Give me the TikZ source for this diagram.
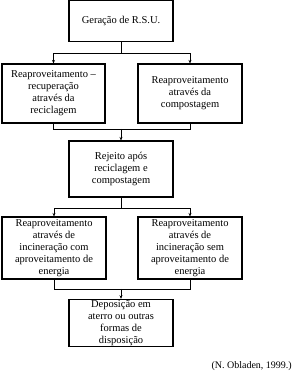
\documentclass[tikz,border=0pt]{standalone}
\usepackage{fontspec}
\setmainfont{Liberation Serif}
\usetikzlibrary{arrows.meta}
\begin{document}
\begin{tikzpicture}[x=1pt,y=1pt,
  box/.style={draw,line width=1.1pt,align=center,inner sep=1pt,
    font=\fontsize{10.5}{12}\selectfont,minimum width=104pt},
  conn/.style={line width=0.8pt},
  arr/.style={conn,-{Stealth[length=3.5pt,width=3pt]}}]
\useasboundingbox (0,0) rectangle (293,380);
\node[box,minimum height=41pt] (b1) at (121,359) {Geração de R.S.U.};
\node[box,minimum height=59pt,minimum width=103pt] (b2) at (53.5,286.5) {Reaproveitamento –\\recuperação\\através da\\reciclagem};
\node[box,minimum height=59pt] (b3) at (190,286.5) {Reaproveitamento\\através da\\compostagem};
\node[box,minimum height=56pt] (b4) at (121,211) {Rejeito após\\reciclagem e\\compostagem};
\node[box,minimum height=62pt] (b5) at (54,132) {Reaproveitamento\\através de\\incineração com\\aproveitamento de\\energia};
\node[box,minimum height=62pt] (b6) at (190,132) {Reaproveitamento\\através de\\incineração sem\\aproveitamento de\\energia};
\node[box,minimum height=46pt] (b7) at (121,57) {Deposição em\\aterro ou outras\\formas de\\disposição};
\node[anchor=base east,font=\fontsize{10}{12}\selectfont,inner sep=0pt] (src) at (292,12) {(N. Obladen, 1999.)};
\coordinate (j1) at (121,327);
\coordinate (j2) at (121,251);
\coordinate (j3) at (121,172);
\coordinate (j4) at (121,91);
\draw[conn] (b1.south) -- (j1);
\draw[arr] (j1) -| (b2.north);
\draw[arr] (j1) -| (b3.north);
\draw[conn] (b2.south) |- (j2);
\draw[conn] (b3.south) |- (j2);
\draw[arr] (j2) -- (b4.north);
\draw[conn] (b4.south) -- (j3);
\draw[arr] (j3) -| (b5.north);
\draw[arr] (j3) -| (b6.north);
\draw[conn] (b5.south) |- (j4);
\draw[conn] (b6.south) |- (j4);
\draw[arr] (j4) -- (b7.north);
\end{tikzpicture}
\end{document}
